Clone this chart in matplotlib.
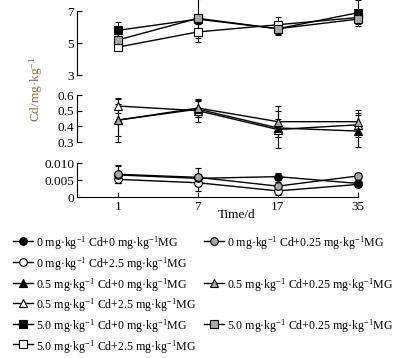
import matplotlib
matplotlib.use("Agg")
import matplotlib.pyplot as plt
from matplotlib.lines import Line2D
import numpy as np

plt.rcParams['font.family'] = ['Liberation Serif', 'DejaVu Serif']
plt.rcParams['mathtext.fontset'] = 'custom'
plt.rcParams['mathtext.rm'] = 'Liberation Serif'
plt.rcParams['mathtext.it'] = 'Liberation Serif:italic'
plt.rcParams['mathtext.bf'] = 'Liberation Serif:bold'

days = ['1', '7', '17', '35']

# 0 mg/kg Cd series (circles)
cd0_mg0 = [0.0065, 0.0055, 0.0060, 0.0040]
cd0_mg0_err = [0.0025, 0.0012, 0.0010, 0.0008]
cd0_mg025 = [0.0067, 0.0058, 0.0032, 0.0062]
cd0_mg025_err = [0.0027, 0.0027, 0.0012, 0.0008]
cd0_mg25 = [0.0052, 0.0042, 0.0018, 0.0037]
cd0_mg25_err = [0.0011, 0.0024, 0.0013, 0.0008]

# 0.5 mg/kg Cd series (triangles)
cd05_mg0 = [0.44, 0.51, 0.39, 0.37]
cd05_mg0_err = [0.10, 0.05, 0.06, 0.10]
cd05_mg025 = [0.44, 0.517, 0.43, 0.43]
cd05_mg025_err = [0.14, 0.056, 0.10, 0.075]
cd05_mg25 = [0.53, 0.50, 0.38, 0.41]
cd05_mg25_err = [0.045, 0.07, 0.12, 0.075]

# 5.0 mg/kg Cd series (squares)
cd5_mg0 = [5.8, 6.5, 5.9, 6.9]
cd5_mg0_err = [0.5, 0.3, 0.4, 0.8]
cd5_mg025 = [5.2, 6.55, 5.9, 6.5]
cd5_mg025_err = [0.4, 1.2, 0.3, 0.3]
cd5_mg25 = [4.75, 5.7, 6.15, 6.6]
cd5_mg25_err = [0.2, 0.65, 0.5, 0.3]

U = 'mg·kg$^{-1}$'
labels = {
    'c0': f'0 {U} Cd+0 {U}MG',
    'c025': f'0 {U} Cd+0.25 {U}MG',
    'c25': f'0 {U} Cd+2.5 {U}MG',
    't0': f'0.5 {U} Cd+0 {U}MG',
    't025': f'0.5 {U} Cd+0.25 {U}MG',
    't25': f'0.5 {U} Cd+2.5 {U}MG',
    's0': f'5.0 {U} Cd+0 {U}MG',
    's025': f'5.0 {U} Cd+0.25 {U}MG',
    's25': f'5.0 {U} Cd+2.5 {U}MG',
}

W, H = 415, 358
fig = plt.figure(figsize=(W/100, H/100), dpi=100)

def ax_rect(top_px, bot_px, left_px=77, right_px=392):
    return [left_px/W, 1-bot_px/H, (right_px-left_px)/W, (bot_px-top_px)/H]

ax1 = fig.add_axes(ax_rect(0, 75))
ax2 = fig.add_axes(ax_rect(82.5, 148.3))
ax3 = fig.add_axes(ax_rect(158, 197))

x = np.arange(len(days))
fills = {'0': 'black', '025': '#a8a8a8', '25': 'white'}

def draw(ax, y, err, marker, fill, label):
    ax.errorbar(x, y, yerr=err, color='black', lw=1.0, elinewidth=0.8,
                capsize=2.5, capthick=0.8, marker=marker, ms=5.5,
                mfc=fill, mec='black', mew=0.8, label=label, clip_on=False, zorder=3)

draw(ax3, cd0_mg25, cd0_mg25_err, 'o', fills['25'], labels['c25'])
draw(ax3, cd0_mg0, cd0_mg0_err, 'o', fills['0'], labels['c0'])
draw(ax3, cd0_mg025, cd0_mg025_err, 'o', fills['025'], labels['c025'])
draw(ax2, cd05_mg25, cd05_mg25_err, '^', fills['25'], labels['t25'])
draw(ax2, cd05_mg0, cd05_mg0_err, '^', fills['0'], labels['t0'])
draw(ax2, cd05_mg025, cd05_mg025_err, '^', fills['025'], labels['t025'])
draw(ax1, cd5_mg25, cd5_mg25_err, 's', fills['25'], labels['s25'])
draw(ax1, cd5_mg0, cd5_mg0_err, 's', fills['0'], labels['s0'])
draw(ax1, cd5_mg025, cd5_mg025_err, 's', fills['025'], labels['s025'])

xl = (-0.514, 3.43)
ax1.set_ylim(3, 7.7); ax1.set_yticks([3, 5, 7]); ax1.set_yticklabels(['3', '5', '7'])
ax1.spines['left'].set_bounds(3, 7)
ax2.set_ylim(0.26, 0.68); ax2.set_yticks([0.3, 0.4, 0.5, 0.6])
ax2.set_yticklabels(['0.3', '0.4', '0.5', '0.6'])
ax2.spines['left'].set_bounds(0.3, 0.6)
ax3.set_ylim(0, 0.0115); ax3.set_yticks([0, 0.005, 0.010])
ax3.set_yticklabels(['0', '0.005', '0.010'])
ax3.spines['left'].set_bounds(0, 0.010)

for ax in (ax1, ax2, ax3):
    ax.set_xlim(*xl)
    ax.patch.set_visible(False)
    for s in ('top', 'right'):
        ax.spines[s].set_visible(False)
    ax.spines['left'].set_linewidth(0.8)
    ax.tick_params(axis='y', direction='in', length=3.5, width=0.8, labelsize=9.5, pad=2)
for ax in (ax1, ax2):
    ax.spines['bottom'].set_visible(False)
    ax.set_xticks([])
ax3.spines['bottom'].set_linewidth(0.8)
ax3.spines['bottom'].set_bounds(xl[0], x[-1])
ax3.set_xticks(x)
ax3.set_xticklabels(days)
ax3.tick_params(axis='x', direction='in', length=3.5, width=0.8, labelsize=9.5, pad=3)

fig.text(36/W, 1-89/H, 'Cd/mg·kg$^{-1}$', rotation=90, ha='center', va='center',
         fontsize=9.5, color='#9a6a3a')
fig.text(237/W, 1-215/H, 'Time/d', ha='center', va='center', fontsize=9.5)

# legend drawn as handle + text rows (two columns)
legend_rows = [
    [('o', fills['0'], labels['c0']), ('o', fills['025'], labels['c025'])],
    [('o', fills['25'], labels['c25']), None],
    [('^', fills['0'], labels['t0']), ('^', fills['025'], labels['t025'])],
    [('^', fills['25'], labels['t25']), None],
    [('s', fills['0'], labels['s0']), ('s', fills['025'], labels['s025'])],
    [('s', fills['25'], labels['s25']), None],
]
row_y = [241, 262, 282.5, 303, 323.5, 344]
col_x = [13, 204]
for ry, row in zip(row_y, legend_rows):
    for cx, item in zip(col_x, row):
        if item is None:
            continue
        mk, fc, lab = item
        yy = 1 - ry/H
        fig.add_artist(Line2D([cx/W, (cx+20)/W], [yy, yy], color='black', lw=1.0,
                              transform=fig.transFigure))
        fig.add_artist(Line2D([(cx+9.5)/W], [yy], marker=mk, ms=5.5, mfc=fc,
                              mec='black', mew=0.8, transform=fig.transFigure))
        fig.text((cx+23)/W, yy, lab, ha='left', va='center_baseline', fontsize=8.6)

fig.savefig('out.png', dpi=100)
